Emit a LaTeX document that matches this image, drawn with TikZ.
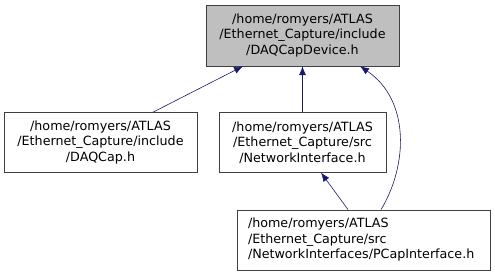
\documentclass[tikz,border=0pt]{standalone}
\usepackage{fontspec}
\setmainfont{DejaVu Sans}
\usepackage{tikz}
\usetikzlibrary{arrows.meta,positioning}
\definecolor{edgeblue}{RGB}{25,25,112}
\definecolor{curgray}{RGB}{191,191,191}

\begin{document}
\begin{tikzpicture}[x=1pt, y=1pt,
    filenode/.style={rectangle, draw=black!75, fill=white, inner sep=0pt,
      font=\fontsize{12.7}{15.5}\selectfont, align=center, minimum height=60pt},
    incedge/.style={draw=edgeblue, line width=0.6pt, -{Latex[length=9pt,width=7pt]}}]

  \useasboundingbox (0,0) rectangle (495,275);

  % Define nodes
  \node[filenode, fill=curgray, minimum width=193pt, minimum height=61pt] (device) at (302.5,239.5)
    {/home/romyers/ATLAS\\/Ethernet\_Capture/include\\/DAQCapDevice.h};

  \node[filenode, minimum width=193pt, below=46pt of device, xshift=-202pt] (daqcap)
    {/home/romyers/ATLAS\\/Ethernet\_Capture/include\\/DAQCap.h};
  \node[filenode, minimum width=167pt, below=46pt of device] (netif)
    {/home/romyers/ATLAS\\/Ethernet\_Capture/src\\/NetworkInterface.h};

  \node[filenode, align=left, text width=231pt, inner xsep=11pt, below=37pt of netif, xshift=61pt] (pcap)
    {/home/romyers/ATLAS\\/Ethernet\_Capture/src\\/NetworkInterfaces/PCapInterface.h};

  % include edges
  \draw[incedge] ([xshift=52.5pt]daqcap.north) -- ([xshift=-59.5pt]device.south);
  \draw[incedge] (netif.north) -- (device.south);
  \draw[incedge] ([xshift=-15.5pt]pcap.north) -- ([xshift=18.5pt]netif.south);
  \draw[incedge] ([xshift=17.5pt]pcap.north) .. controls (408,110) and (410,175) .. ([xshift=57.5pt]device.south);

\end{tikzpicture}
\end{document}
